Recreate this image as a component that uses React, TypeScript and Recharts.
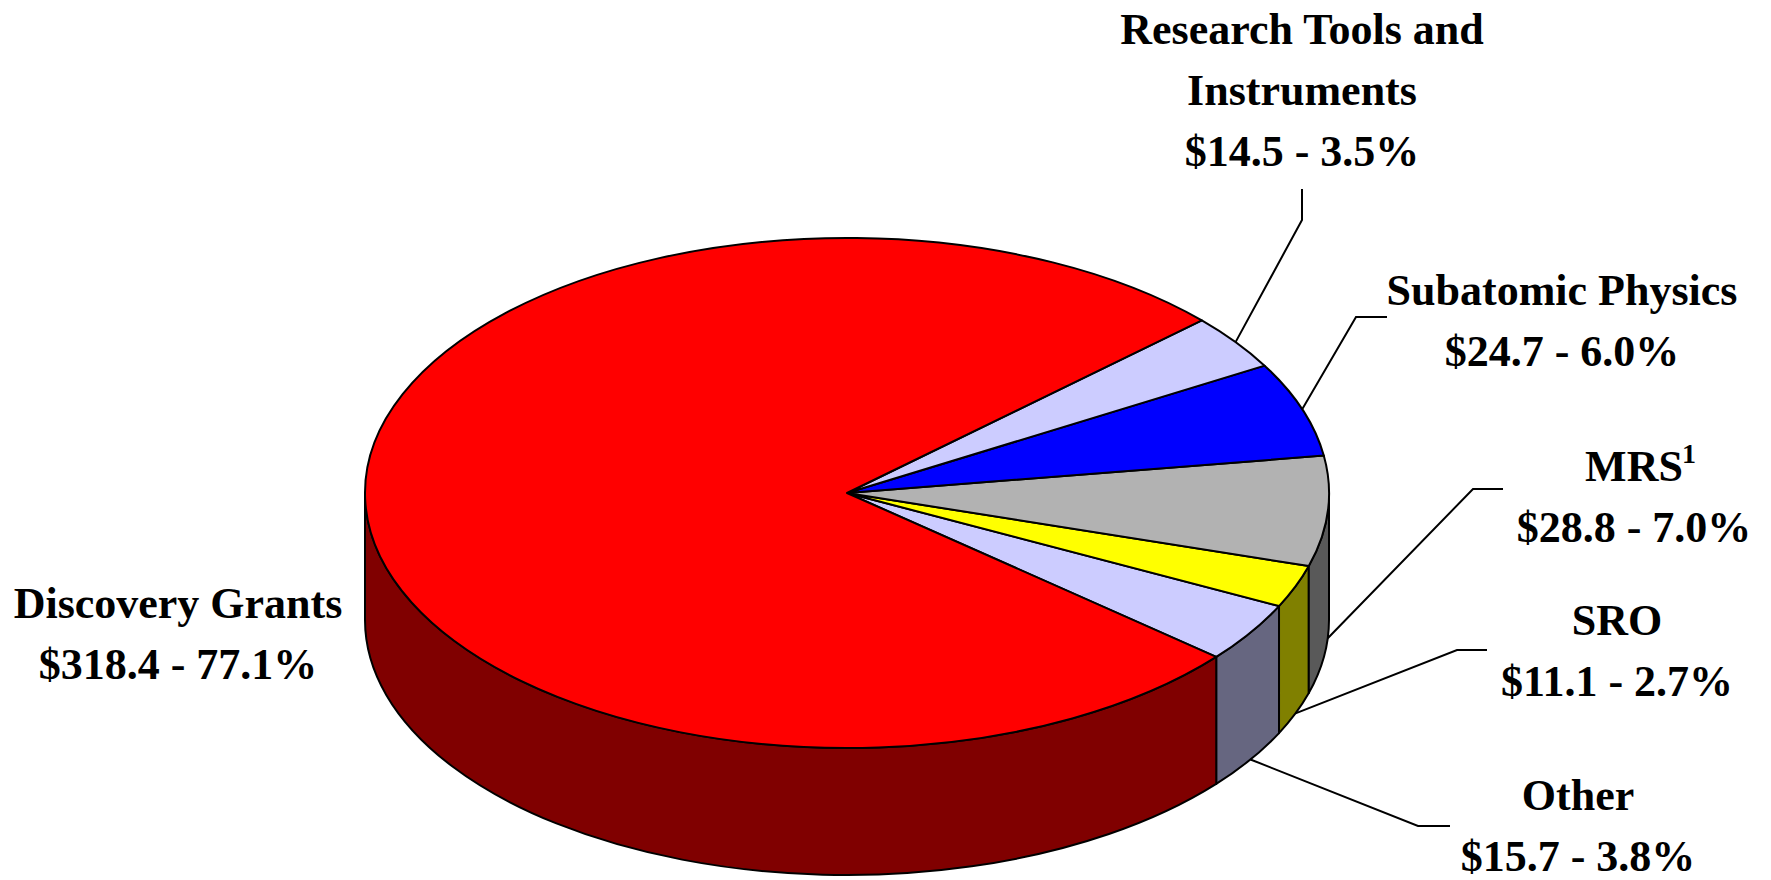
import { PieChart, Pie } from 'recharts';

// NSERC-style budget split, $ millions
const categories = ['Other', 'SRO', 'MRS', 'Subatomic Physics', 'Research Tools and Instruments', 'Discovery Grants'];
const amounts = [15.7, 11.1, 28.8, 24.7, 14.5, 318.4];
const topColors = ['#CCCCFF', '#FFFF00', '#B2B2B2', '#0000FF', '#CCCCFF', '#FF0000'];
const sideColors = ['#666680', '#808000', '#595959', '#000080', '#666680', '#800000'];

const data = categories.map((name, i) => ({ name, value: amounts[i] }));

const TILT = 255 / 482;
const DEPTH = 127;
const FONT = '"Liberation Serif", "Times New Roman", serif';

type Layout = { lines: string[]; sup?: string; x: number; y: number; leader?: number[][] };

const labelLayout: Record<string, Layout> = {
  'Other': { lines: ['Other'], x: 1578, y: 810, leader: [[1418, 826], [1450, 826]] },
  'SRO': { lines: ['SRO'], x: 1617, y: 635, leader: [[1457, 650], [1487, 650]] },
  'MRS': { lines: ['MRS'], sup: '1', x: 1634, y: 481, leader: [[1473, 489], [1503, 489]] },
  'Subatomic Physics': { lines: ['Subatomic Physics'], x: 1562, y: 305, leader: [[1356, 317], [1387, 317]] },
  'Research Tools and Instruments': { lines: ['Research Tools and', 'Instruments'], x: 1302, y: 44, leader: [[1302, 220], [1302, 189]] },
  'Discovery Grants': { lines: ['Discovery Grants'], x: 178, y: 618 },
};

const renderSlice = (props: any) => {
  const { cx, cy, outerRadius: r, startAngle, endAngle, midAngle, percent, index } = props;
  const ry = r * TILT;
  const a1 = Math.min(startAngle, endAngle);
  const a2 = Math.max(startAngle, endAngle);
  const pt = (deg: number, dz = 0) => {
    const a = (deg * Math.PI) / 180;
    return [cx + r * Math.cos(a), cy - ry * Math.sin(a) + dz];
  };

  // visible outer wall = the part of the slice facing the viewer (180..360)
  const walls: string[] = [];
  for (const k of [-1, 0, 1]) {
    const lo = Math.max(a1, 180 + 360 * k);
    const hi = Math.min(a2, 360 + 360 * k);
    if (hi > lo) {
      const [x1, y1] = pt(lo);
      const [x2, y2] = pt(hi);
      walls.push(
        `M${x1},${y1} A${r},${ry} 0 0 0 ${x2},${y2} L${x2},${y2 + DEPTH} A${r},${ry} 0 0 1 ${x1},${y1 + DEPTH} Z`
      );
    }
  }

  const [sx, sy] = pt(a1);
  const [ex, ey] = pt(a2);
  const large = a2 - a1 > 180 ? 1 : 0;
  const top = `M${cx},${cy} L${sx},${sy} A${r},${ry} 0 ${large} 0 ${ex},${ey} Z`;

  const name = categories[index];
  const lay = labelLayout[name];
  const front = Math.sin((midAngle * Math.PI) / 180) < 0;
  const anchor = pt(midAngle, front ? DEPTH : 0);
  const valueLine = `$${amounts[index].toFixed(1)} - ${(percent * 100).toFixed(1)}%`;

  return (
    <g key={`slice-${index}`}>
      {walls.map((d, i) => (
        <path key={i} d={d} fill={sideColors[index]} stroke="#000" strokeWidth={2} strokeLinejoin="round" />
      ))}
      <path d={top} fill={topColors[index]} stroke="#000" strokeWidth={2} strokeLinejoin="round" />
      {lay.leader && (
        <polyline
          points={[anchor, ...lay.leader].map((p) => p.join(',')).join(' ')}
          fill="none"
          stroke="#000"
          strokeWidth={2}
        />
      )}
      <text x={lay.x} y={lay.y} textAnchor="middle" fontFamily={FONT} fontWeight="bold" fontSize={44} fill="#000">
        {lay.lines.map((ln, i) => (
          <tspan key={i} x={lay.x} dy={i === 0 ? 0 : 61}>
            {ln}
          </tspan>
        ))}
        <tspan x={lay.x} dy={61}>{valueLine}</tspan>
      </text>
      {lay.sup && (
        <text x={lay.x + 55} y={lay.y - 18} textAnchor="middle" fontFamily={FONT} fontWeight="bold" fontSize={28} fill="#000">
          {lay.sup}
        </text>
      )}
    </g>
  );
};

export default function App() {
  return (
    <div style={{ position: 'absolute', left: 0, top: 0, width: 1771, height: 880, background: '#fff' }}>
      <PieChart width={1771} height={880} margin={{ top: 0, right: 0, bottom: 0, left: 0 }}>
        <Pie
          data={data}
          dataKey="value"
          nameKey="name"
          cx={847}
          cy={493}
          outerRadius={482}
          startAngle={-40}
          endAngle={320}
          fill="transparent"
          stroke="none"
          label={renderSlice}
          labelLine={false}
          isAnimationActive={false}
        />
      </PieChart>
    </div>
  );
}
